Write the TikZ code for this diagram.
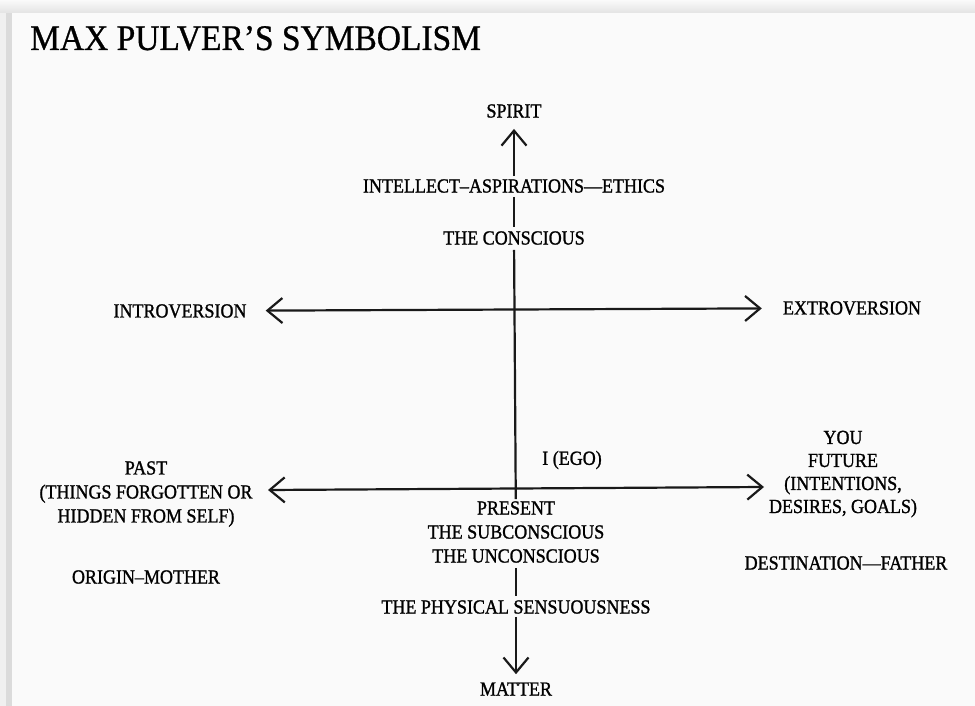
\documentclass[tikz,border=0pt]{standalone}
\usepackage{fontspec}
\setmainfont{Liberation Serif}
\newfontfamily\pulverfont[Ligatures=TeX, FakeBold=1.2, FakeStretch=0.9]{Liberation Serif}
\newfontfamily\pulvertitle[Ligatures=TeX, FakeBold=0.8, FakeStretch=0.93]{Liberation Serif}
\usetikzlibrary{arrows.meta}

\begin{document}
\begin{tikzpicture}[x=1pt, y=-1pt,
		lbl/.style={font=\pulverfont\fontsize{20}{24}\selectfont, align=center, inner sep=3pt},
		axis/.style={line width=2.2pt, draw=black!90},
		oneway/.style={-{Straight Barb[length=15pt,width=25pt]}},
		twoway/.style={{Straight Barb[length=15pt,width=25pt]}-{Straight Barb[length=15pt,width=25pt]}}
			]
	\fill[gray!12] (0,0) rectangle (975,706);
	\shade[top color=gray!4, bottom color=gray!22] (0,0) rectangle (975,13);
	\fill[gray!28] (6,13) rectangle (12,706);
	\fill[black!2] (12,13) rectangle (975,706);
	\useasboundingbox (0,0) rectangle (975,706);

	\node[anchor=base west, font=\pulvertitle\fontsize{36}{40}\selectfont, inner sep=0pt] (title) at (30,50) {MAX PULVER'S SYMBOLISM};

	\node[lbl] (spirit) at (514,111) {SPIRIT};
	\node[lbl] (intellect) at (514,186) {INTELLECT--ASPIRATIONS---ETHICS};
	\node[lbl] (conscious) at (514,238) {THE CONSCIOUS};
	\node[lbl] (introversion) at (180,311) {INTROVERSION};
	\node[lbl] (extroversion) at (852,308) {EXTROVERSION};
	\node[lbl] (ego) at (572,460) {I (EGO)};
	\node[lbl, inner sep=2pt] (present) at (516,532) {PRESENT\\THE SUBCONSCIOUS\\THE UNCONSCIOUS};
	\node[lbl] (physical) at (516,607) {THE PHYSICAL SENSUOUSNESS};
	\node[lbl] (matter) at (516,689) {MATTER};
	\node[lbl] (past) at (146,494) {PAST\\(THINGS FORGOTTEN OR\\HIDDEN FROM SELF)};
	\node[lbl] (origin) at (146,577) {ORIGIN--MOTHER};
	\node[lbl, font=\pulverfont\fontsize{20}{23}\selectfont] (future) at (843,474) {YOU\\FUTURE\\(INTENTIONS,\\DESIRES, GOALS)};
	\node[lbl] (destination) at (846,563) {DESTINATION---FATHER};

	\coordinate (pasttip) at (268,490);
	\coordinate (futuretip) at (764,487);

	\draw[axis, oneway, shorten >=8pt] (intellect) -- (spirit);
	\draw[axis, shorten <=1pt, shorten >=1pt] (intellect) -- (conscious);
	\draw[axis, shorten <=2pt] (conscious) -- (present);
	\draw[axis, shorten <=3pt, shorten >=1pt] (present) -- (physical);
	\draw[axis, oneway, shorten >=5pt] (physical) -- (matter);

	\draw[axis, twoway, shorten <=16pt, shorten >=18pt] (introversion) -- (extroversion);
	\draw[axis, twoway] (pasttip) -- (futuretip);

\end{tikzpicture}
\end{document}
